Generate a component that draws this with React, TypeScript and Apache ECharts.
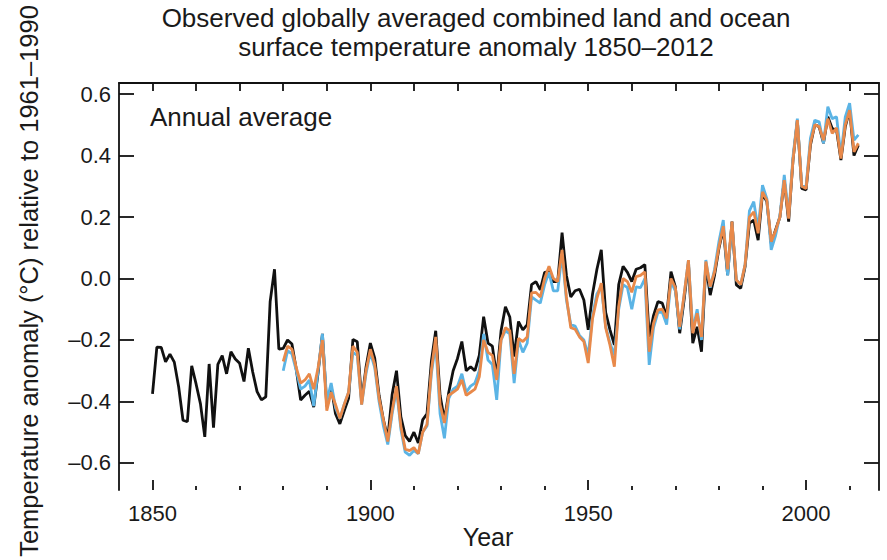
import React, { useEffect, useRef } from "react";
import * as echarts from "echarts";

const TITLE_LINES = [
  "Observed globally averaged combined land and ocean",
  "surface temperature anomaly 1850\u20132012",
];
const PANEL_LABEL = "Annual average";
const X_NAME = "Year";
const Y_NAME = "Temperature anomaly (\u00b0C) relative to 1961\u20131990";

const X_LABELS = [1850, 1900, 1950, 2000];
const X_MINOR = [1860, 1870, 1880, 1890, 1910, 1920, 1930, 1940, 1960, 1970, 1980, 1990, 2010];
const X_TOP = [1850, 1860, 1870, 1880, 1890, 1900, 1910, 1920, 1930, 1940, 1950, 1960, 1970, 1980, 1990, 2000, 2010];
const Y_TICKS = [-0.6, -0.4, -0.2, 0.0, 0.2, 0.4, 0.6];

// HadCRUT4 (black), 1850-2012
const HAD_START = 1850;
const HADCRUT4 = [
  -0.375, -0.223, -0.224, -0.271, -0.246, -0.272, -0.352, -0.461, -0.466, -0.284,
  -0.343, -0.407, -0.515, -0.278, -0.485, -0.279, -0.251, -0.31, -0.238, -0.262,
  -0.276, -0.335, -0.227, -0.304, -0.368, -0.395, -0.385, -0.075, 0.03, -0.23,
  -0.227, -0.2, -0.213, -0.296, -0.395, -0.38, -0.367, -0.418, -0.307, -0.18,
  -0.416, -0.35, -0.44, -0.473, -0.43, -0.39, -0.198, -0.206, -0.4, -0.289,
  -0.21, -0.259, -0.38, -0.46, -0.52, -0.377, -0.3, -0.45, -0.511, -0.53,
  -0.5, -0.535, -0.46, -0.44, -0.27, -0.17, -0.38, -0.46, -0.37, -0.3,
  -0.26, -0.205, -0.3, -0.287, -0.3, -0.25, -0.124, -0.21, -0.22, -0.32,
  -0.17, -0.092, -0.125, -0.254, -0.14, -0.167, -0.15, -0.02, -0.01, -0.037,
  0.02, 0.022, -0.01, -0.01, 0.149, 0.01, -0.06, -0.04, -0.035, -0.07,
  -0.167, -0.05, 0.03, 0.093, -0.11, -0.167, -0.216, -0.02, 0.04, 0.02,
  -0.01, 0.03, 0.035, 0.045, -0.19, -0.12, -0.075, -0.08, -0.124, 0.022,
  -0.027, -0.178, -0.07, 0.05, -0.21, -0.157, -0.238, 0.044, -0.054, 0.011,
  0.098, 0.163, 0.011, 0.185, -0.021, -0.032, 0.038, 0.18, 0.19, 0.125,
  0.277, 0.25, 0.114, 0.158, 0.2, 0.32, 0.185, 0.385, 0.515, 0.293,
  0.288, 0.434, 0.5, 0.494, 0.44, 0.526, 0.488, 0.483, 0.385, 0.494,
  0.548, 0.4, 0.434,
];

// MLOST (orange), 1880-2012
const MLOST_START = 1880;
const MLOST = [
  -0.27, -0.22, -0.23, -0.29, -0.34, -0.33, -0.31, -0.36, -0.29, -0.2,
  -0.43, -0.37, -0.41, -0.455, -0.41, -0.37, -0.22, -0.24, -0.41, -0.3,
  -0.23, -0.28, -0.39, -0.46, -0.53, -0.43, -0.35, -0.48, -0.555, -0.56,
  -0.55, -0.57, -0.5, -0.475, -0.3, -0.19, -0.41, -0.47, -0.38, -0.37,
  -0.36, -0.33, -0.38, -0.37, -0.36, -0.32, -0.2, -0.24, -0.25, -0.33,
  -0.2, -0.16, -0.17, -0.31, -0.195, -0.205, -0.19, -0.047, -0.045, -0.06,
  0.0, 0.04, 0.0, -0.01, 0.093, -0.06, -0.16, -0.165, -0.19, -0.205,
  -0.275, -0.13, -0.065, -0.015, -0.16, -0.217, -0.287, -0.09, 0.0, -0.01,
  -0.045, 0.006, 0.01, 0.022, -0.238, -0.145, -0.102, -0.1, -0.13, 0.0,
  -0.03, -0.157, -0.054, 0.06, -0.178, -0.113, -0.19, 0.055, -0.027, 0.022,
  0.103, 0.17, 0.03, 0.185, -0.005, -0.02, 0.045, 0.2, 0.217, 0.147,
  0.282, 0.255, 0.12, 0.155, 0.2, 0.32, 0.195, 0.385, 0.515, 0.3,
  0.293, 0.44, 0.5, 0.494, 0.45, 0.52, 0.472, 0.49, 0.39, 0.5,
  0.548, 0.412, 0.44,
];

// GISS (blue), 1880-2012
const GISS_START = 1880;
const GISS = [
  -0.3, -0.235, -0.245, -0.3, -0.36, -0.35, -0.33, -0.415, -0.3, -0.18,
  -0.4, -0.34, -0.42, -0.455, -0.41, -0.37, -0.24, -0.25, -0.41, -0.31,
  -0.24, -0.29, -0.4, -0.48, -0.54, -0.44, -0.36, -0.49, -0.565, -0.575,
  -0.56, -0.57, -0.5, -0.48, -0.31, -0.21, -0.44, -0.52, -0.39, -0.36,
  -0.35, -0.31, -0.37, -0.35, -0.34, -0.3, -0.18, -0.265, -0.28, -0.395,
  -0.2, -0.17, -0.18, -0.34, -0.2, -0.24, -0.21, -0.06, -0.07, -0.08,
  -0.02, 0.02, -0.04, -0.04, 0.08, -0.07, -0.15, -0.155, -0.185, -0.2,
  -0.25, -0.12, -0.05, -0.025, -0.155, -0.21, -0.25, -0.1, -0.02, -0.03,
  -0.1, -0.027, -0.03, 0.0, -0.281, -0.16, -0.11, -0.11, -0.15, -0.01,
  -0.04, -0.165, -0.055, 0.06, -0.17, -0.1, -0.2, 0.06, -0.03, 0.03,
  0.12, 0.19, 0.01, 0.18, -0.005, -0.02, 0.045, 0.22, 0.25, 0.16,
  0.304, 0.26, 0.093, 0.14, 0.205, 0.337, 0.205, 0.396, 0.52, 0.3,
  0.3, 0.456, 0.515, 0.51, 0.44, 0.559, 0.52, 0.526, 0.4, 0.526,
  0.57, 0.45, 0.467,
];

const COLORS = { had: "#111111", mlost: "#E8894A", giss: "#5BB4E5" };
const FONT = "'Liberation Sans', Arial, Helvetica, sans-serif";
const TEXT = "#1a1a1a";

const toPairs = (start: number, arr: number[]) => arr.map((v, i) => [start + i, v]);

export default function App() {
  const ref = useRef<HTMLDivElement>(null);
  useEffect(() => {
    if (!ref.current) return;
    const chart = echarts.init(ref.current, null, { renderer: "svg" });
    const xBase = { type: "value", min: 1842.31, max: 2016.74, splitLine: { show: false } };
    const yBase = { type: "value", min: -0.688, max: 0.636, splitLine: { show: false } };
    const lineStyle = { color: "#111", width: 1.8 };
    const gridBox = { left: 119, right: 8, top: 83, bottom: 70, containLabel: false };
    chart.setOption({
      animation: false,
      backgroundColor: "#ffffff",
      grid: [gridBox, gridBox],
      xAxis: [
        {
          ...xBase,
          gridIndex: 0,
          position: "bottom",
          axisLine: { show: false, onZero: false },
          axisTick: { show: true, inside: true, length: 10, customValues: X_LABELS, lineStyle },
          axisLabel: {
            show: true, customValues: X_LABELS, margin: 12,
            color: TEXT, fontSize: 22, fontFamily: FONT,
            formatter: (v: number) => String(Math.round(v)),
          },
        },
        {
          ...xBase,
          gridIndex: 0,
          position: "top",
          axisLine: { show: true, onZero: false, lineStyle },
          axisTick: { show: true, inside: true, length: 8, customValues: X_TOP, lineStyle },
          axisLabel: { show: false },
        },
        {
          ...xBase,
          gridIndex: 1,
          position: "bottom",
          axisLine: { show: false, onZero: false },
          axisTick: { show: true, inside: true, length: 4, customValues: X_MINOR, lineStyle },
          axisLabel: { show: false },
        },
      ],
      yAxis: [
        {
          ...yBase,
          gridIndex: 0,
          position: "left",
          axisLine: { show: true, onZero: false, lineStyle },
          axisTick: { show: true, inside: true, length: 15, customValues: Y_TICKS, lineStyle },
          axisLabel: {
            show: true, customValues: Y_TICKS, margin: 8,
            color: TEXT, fontSize: 22, fontFamily: FONT,
            formatter: (v: number) => (v < -1e-9 ? "\u2013" : "") + Math.abs(v).toFixed(1),
          },
        },
        {
          ...yBase,
          gridIndex: 0,
          position: "right",
          axisLine: { show: true, onZero: false, lineStyle },
          axisTick: { show: true, inside: true, length: 15, customValues: Y_TICKS, lineStyle },
          axisLabel: { show: false },
        },
        {
          ...yBase,
          gridIndex: 1,
          show: false,
        },
      ],
      graphic: [
        {
          type: "text", x: 476, y: 3,
          style: {
            text: TITLE_LINES.join("\n"), fill: TEXT, font: `26px ${FONT}`,
            textAlign: "center", lineHeight: 29,
          },
        },
        {
          type: "text", x: 150, y: 117,
          style: { text: PANEL_LABEL, fill: TEXT, font: `26px ${FONT}`, textVerticalAlign: "middle" },
        },
        {
          type: "text", x: 488, y: 537,
          style: { text: X_NAME, fill: TEXT, font: `25px ${FONT}`, textAlign: "center", textVerticalAlign: "middle" },
        },
        {
          type: "text", x: 29, y: 281, rotation: Math.PI / 2,
          style: { text: Y_NAME, fill: TEXT, font: `25.5px ${FONT}`, textAlign: "center", textVerticalAlign: "middle" },
        },
      ],
      series: [
        {
          name: "HadCRUT4", type: "line", xAxisIndex: 0, yAxisIndex: 0, showSymbol: false, symbol: "none",
          data: toPairs(HAD_START, HADCRUT4), lineStyle: { color: COLORS.had, width: 2.8 }, z: 2,
        },
        {
          name: "GISS", type: "line", xAxisIndex: 0, yAxisIndex: 0, showSymbol: false, symbol: "none",
          data: toPairs(GISS_START, GISS), lineStyle: { color: COLORS.giss, width: 2.8 }, z: 3,
        },
        {
          name: "MLOST", type: "line", xAxisIndex: 0, yAxisIndex: 0, showSymbol: false, symbol: "none",
          data: toPairs(MLOST_START, MLOST), lineStyle: { color: COLORS.mlost, width: 2.8 }, z: 4,
        },
      ],
    });
    return () => chart.dispose();
  }, []);
  return (
    <div
      ref={ref}
      style={{ position: "fixed", left: 0, top: 0, width: 887, height: 560, background: "#fff" }}
    />
  );
}
